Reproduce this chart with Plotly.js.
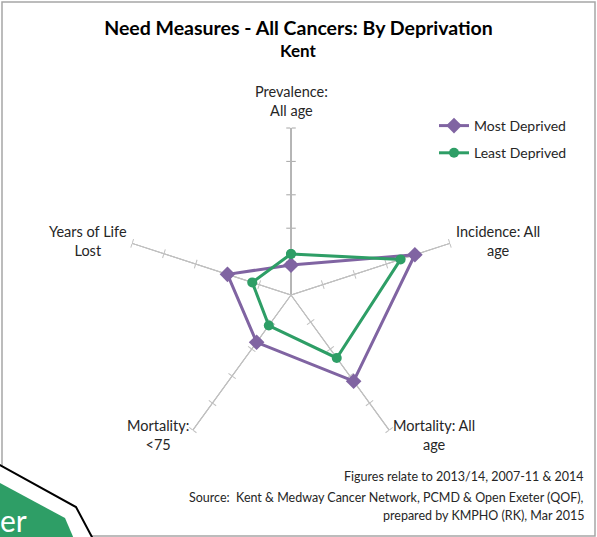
<!DOCTYPE html>
<html>
<head>
<meta charset="utf-8">
<script src="https://cdn.plot.ly/plotly-3.0.1.min.js"></script>
<style>html,body{margin:0;padding:0;background:#fff;}#chart{width:597px;height:537px;}</style>
</head>
<body>
<div id="chart"></div>
<script>
// ---- data ----
const categories = ["Prevalence:<br>All age", "Incidence: All<br>age", "Mortality: All<br>age", "Mortality:<br><75", "Years of Life<br>Lost"];
const mostDeprived = [0.9, 3.9, 3.19, 1.75, 2.0];
const leastDeprived = [1.23, 3.45, 2.33, 1.13, 1.22];
const seriesNames = ["Most Deprived", "Least Deprived"];
const radialTicks = [1, 2, 3, 4, 5];
const spokeAngles = [90, 18, -54, -126, 162];
const notes = ["Figures relate to 2013/14, 2007-11 & 2014",
  "Source:  Kent & Medway Cancer Network, PCMD & Open Exeter (QOF),",
  "prepared by KMPHO (RK), Mar 2015"];

const W = 597, H = 537;
const FONT = "Lato, 'Open Sans', sans-serif";
const purple = "#8064A2", green = "#2E9E66";
const domX = [124 / W, 458 / W], domY = [1 - 462 / H, 1 - 128 / H];
const px = x => x / W, py = y => 1 - y / H;

const traces = [];
const layout = {
  width: W, height: H,
  margin: {l: 0, r: 0, t: 0, b: 0},
  paper_bgcolor: "#fff",
  font: {family: FONT, color: "#404040"},
  showlegend: true,
  title: {
    text: "<b>Need Measures - All Cancers: By Deprivation</b>",
    font: {family: FONT, size: 19.5, color: "#000"},
    x: 0.5, xanchor: "center", y: 1 - 28 / H, yanchor: "middle", yref: "container"
  },
  legend: {
    x: px(434), y: py(110), xanchor: "left", yanchor: "top",
    font: {family: FONT, size: 14, color: "#262626"},
    bgcolor: "rgba(0,0,0,0)", traceorder: "grouped", tracegroupgap: 6, itemwidth: 30
  },
  annotations: [{
    text: "<b>Kent</b>", xref: "paper", yref: "paper", x: 0.5, y: py(51),
    xanchor: "center", yanchor: "middle", showarrow: false,
    font: {family: FONT, size: 17, color: "#000"}
  }],
  shapes: []
};

// overlay subplots providing tick marks along each spoke (both sides)
let n = 1;
spokeAngles.forEach((ang, i) => {
  ["clockwise", "counterclockwise"].forEach(side => {
    const id = n === 1 ? "polar" : "polar" + n;
    layout[id] = {
      domain: {x: domX, y: domY},
      bgcolor: "rgba(0,0,0,0)",
      angularaxis: {visible: false},
      radialaxis: {
        range: [0, 5], angle: ang, side: side,
        showline: true, linecolor: i === 0 ? "#a6a6a6" : "#c0c0c0", linewidth: i === 0 ? 1.5 : 1,
        showgrid: false, tickvals: radialTicks, ticks: "outside", ticklen: 4,
        tickcolor: i === 0 ? "#a6a6a6" : "#c0c0c0", tickwidth: 1, showticklabels: false
      }
    };
    traces.push({type: "scatterpolar", subplot: id, r: [], theta: [], showlegend: false, hoverinfo: "skip"});
    n++;
  });
});

// main subplot with spokes and the data
const mainId = "polar" + n;
layout[mainId] = {
  domain: {x: domX, y: domY},
  bgcolor: "rgba(0,0,0,0)",
  angularaxis: {
    type: "category", categoryarray: categories, rotation: 90, direction: "clockwise",
    showline: false, showgrid: true, gridcolor: "#c0c0c0", gridwidth: 1, ticks: "",
    showticklabels: false
  },
  radialaxis: {range: [0, 5], showline: false, showgrid: false, ticks: "", showticklabels: false}
};
const close = a => a.concat([a[0]]);
traces.push({
  type: "scatterpolar", subplot: mainId, name: seriesNames[0], legendgroup: "a",
  r: close(mostDeprived), theta: close(categories), mode: "lines+markers",
  line: {color: purple, width: 3}, marker: {symbol: "diamond", size: 12, color: purple}
});
traces.push({
  type: "scatterpolar", subplot: mainId, name: seriesNames[1], legendgroup: "b",
  r: close(leastDeprived), theta: close(categories), mode: "lines+markers",
  line: {color: green, width: 3}, marker: {symbol: "circle", size: 10, color: green}
});

// category labels at the spoke ends (centred, like the reference)
const labelPos = [[291, 101], [498, 241], [434, 435], [158, 435], [88, 241]];
categories.forEach((c, i) => layout.annotations.push({
  text: c, xref: "paper", yref: "paper", x: px(labelPos[i][0]), y: py(labelPos[i][1]),
  xanchor: "center", yanchor: "middle", align: "center", showarrow: false,
  font: {family: FONT, size: 14.5, color: "#262626"}
}));

// footnotes
const noteY = [476, 497, 515];
notes.forEach((t, i) => layout.annotations.push({
  text: t, xref: "paper", yref: "paper", x: px(586), y: py(noteY[i]),
  xanchor: "right", yanchor: "middle", showarrow: false,
  font: {family: FONT, size: 12.5, color: "#262626"}
}));

// frame and corner decoration
layout.shapes.push({type: "rect", xref: "paper", yref: "paper", layer: "below",
  x0: px(2), x1: px(595), y0: py(536), y1: py(2), line: {color: "#a6a6a6", width: 1.5}});
const path = pts => "M " + pts.map(p => px(p[0]) + "," + py(p[1])).join(" L ") + " Z";
layout.shapes.push({type: "path", xref: "paper", yref: "paper",
  path: path([[-2, 464], [76, 507], [93, 539], [-2, 539]]), fillcolor: "#fff", line: {color: "#000", width: 2}});
layout.shapes.push({type: "path", xref: "paper", yref: "paper",
  path: path([[-2, 482], [65, 518], [74, 539], [-2, 539]]), fillcolor: green, line: {width: 0}});
layout.annotations.push({text: "er", xref: "paper", yref: "paper", x: px(-2), y: py(520),
  xanchor: "left", yanchor: "middle", showarrow: false,
  font: {family: FONT, size: 30, color: "#fff"}});

Plotly.newPlot("chart", traces, layout, {displayModeBar: false, staticPlot: true});
</script>
</body>
</html>
